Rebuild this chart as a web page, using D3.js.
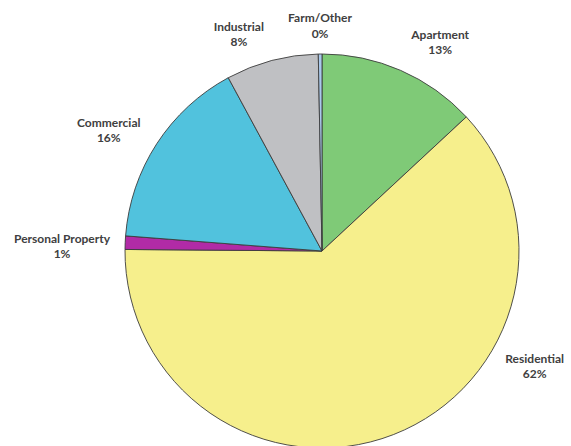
<!DOCTYPE html>
<html>
<head>
<meta charset="utf-8">
<script src="https://cdn.jsdelivr.net/npm/d3@7"></script>
<style>
  html, body { margin: 0; padding: 0; background: #ffffff; }
  svg { display: block; }
  .lbl { font-family: Lato, "Open Sans", sans-serif; font-weight: 700; font-size: 12px; fill: #404040; }
</style>
</head>
<body>
<svg id="chart" width="571" height="446"></svg>
<script>
// Property tax base by class (share, %), clockwise from 12 o'clock
const categories = ["Apartment", "Residential", "Personal Property", "Commercial", "Industrial", "Farm/Other"];
const shares = [13.1, 62.1, 1.1, 15.9, 7.6, 0.3];
const colors = ["#7fca77", "#f6ef8c", "#b12ba6", "#51c2dd", "#bfc0c3", "#a9c9ec"];

// Label placement around the pie: [angle in degrees clockwise from top, distance from centre]
const labelPlacement = [
  [29.5, 240],
  [118.5, 242],
  [271, 260],
  [299.5, 245],
  [339, 232],
  [359.5, 225]
];

const width = 571, height = 446;
const cx = 322, cy = 251, radius = 197;

const svg = d3.select("#chart");
const g = svg.append("g").attr("transform", `translate(${cx},${cy})`);

const pie = d3.pie().sort(null).value(d => d.value);
const arc = d3.arc().innerRadius(0).outerRadius(radius);

const data = categories.map((c, i) => ({ name: c, value: shares[i], color: colors[i] }));
const arcs = pie(data);

g.selectAll("path.slice")
  .data(arcs)
  .enter().append("path")
  .attr("class", "slice")
  .attr("d", arc)
  .attr("fill", d => d.data.color)
  .attr("stroke", "#3c3c3c")
  .attr("stroke-width", 0.9)
  .attr("stroke-linejoin", "round");

const labels = g.selectAll("text.lbl")
  .data(arcs)
  .enter().append("text")
  .attr("class", "lbl")
  .attr("text-anchor", "middle")
  .attr("transform", (d, i) => {
    const a = labelPlacement[i][0] * Math.PI / 180;
    const r = labelPlacement[i][1];
    return `translate(${r * Math.sin(a)},${-r * Math.cos(a)})`;
  });

labels.append("tspan")
  .attr("x", 0)
  .attr("dy", "-0.3em")
  .text(d => d.data.name);

labels.append("tspan")
  .attr("x", 0)
  .attr("dy", "1.3em")
  .text(d => Math.round(d.data.value) + "%");
</script>
</body>
</html>
